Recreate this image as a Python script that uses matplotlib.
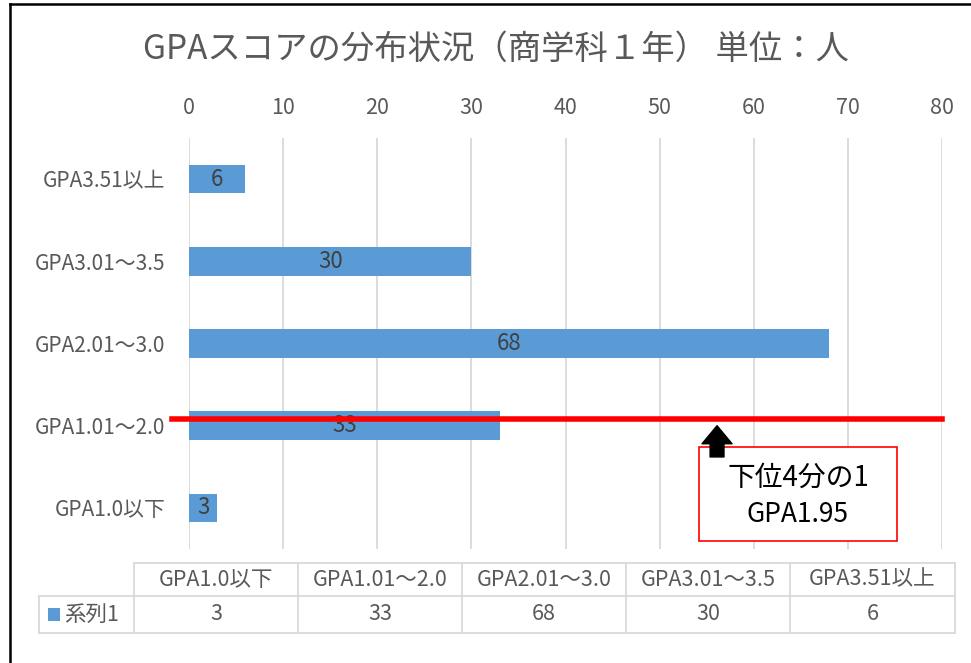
import matplotlib
matplotlib.use('Agg')
import matplotlib.pyplot as plt
from matplotlib.lines import Line2D
from matplotlib.patches import Rectangle, FancyArrowPatch

plt.rcParams['font.family'] = ['Noto Sans CJK JP', 'DejaVu Sans']

# data
categories = ['GPA1.0以下', 'GPA1.01～2.0', 'GPA2.01～3.0', 'GPA3.01～3.5', 'GPA3.51以上']
counts = [3, 33, 68, 30, 6]
series_name = '系列1'
title = 'GPAスコアの分布状況（商学科１年） 単位：人'
xticks = [0, 10, 20, 30, 40, 50, 60, 70, 80]
cutoff_y = 1.08         # bottom quarter line (GPA1.95)
note_lines = ['下位4分の1', 'GPA1.95']

W, H = 971, 663
bar_color = '#5B9BD5'
grid_color = '#D9D9D9'
text_gray = '#595959'

fig = plt.figure(figsize=(W / 100, H / 100), dpi=100)

def fx(px):
    return px / W

def fy(py):
    return 1 - py / H

ax = fig.add_axes([fx(189), fy(549), fx(942) - fx(189), fy(138) - fy(549)])

ypos = list(range(len(categories)))
ax.barh(ypos, counts, height=0.35, color=bar_color, zorder=2)
for y, v in zip(ypos, counts):
    ax.text(v / 2, y, str(v), ha='center', va='center', fontsize=16,
            color='#404040', zorder=3)

ax.set_xlim(0, 80)
ax.set_ylim(-0.5, len(categories) - 0.5)
ax.set_xticks(xticks)
ax.xaxis.tick_top()
ax.tick_params(axis='x', length=0, pad=14, labelsize=15.5, labelcolor=text_gray)
ax.set_yticks(ypos)
ax.set_yticklabels(categories)
ax.tick_params(axis='y', length=0, pad=17, labelsize=15, labelcolor=text_gray)
ax.grid(axis='x', color=grid_color, linewidth=1.3, zorder=0)
for s in ax.spines.values():
    s.set_visible(False)

# red cutoff line
ax.plot([-1.8, 80], [cutoff_y, cutoff_y], color='#FF0000', linewidth=4,
        clip_on=False, zorder=4)

# note box + arrow
ax.add_patch(Rectangle((54.2, -0.40), 21.0, 1.14, facecolor='white',
                       edgecolor='#FF0000', linewidth=1.2, clip_on=False, zorder=5))
ax.add_patch(FancyArrowPatch((56.1, 0.62), (56.1, 1.0),
                             arrowstyle='simple,head_width=1.08,head_length=0.65,tail_width=0.5',
                             mutation_scale=20, color='black', shrinkA=0, shrinkB=0,
                             clip_on=False, zorder=6))
ax.text(64.7, 0.37, note_lines[0], ha='center', va='center', fontsize=20, zorder=7)
ax.text(64.7, -0.08, note_lines[1], ha='center', va='center', fontsize=19, zorder=7)

# title
fig.text(fx(496), fy(49), title, ha='center', va='center', fontsize=24, color=text_gray)

# data table
col_edges = [39, 134, 298, 462, 626, 790, 955]
row_edges = [563, 596, 633]
tc = '#D9D9D9'

def hline(y, x0, x1):
    fig.add_artist(Line2D([fx(x0), fx(x1)], [fy(y), fy(y)], color=tc, linewidth=1.3))

def vline(x, y0, y1):
    fig.add_artist(Line2D([fx(x), fx(x)], [fy(y0), fy(y1)], color=tc, linewidth=1.3))

hline(row_edges[0], col_edges[1], col_edges[-1])
hline(row_edges[1], col_edges[0], col_edges[-1])
hline(row_edges[2], col_edges[0], col_edges[-1])
vline(col_edges[0], row_edges[1], row_edges[2])
for x in col_edges[1:]:
    vline(x, row_edges[0], row_edges[2])

hy = (row_edges[0] + row_edges[1]) / 2
dy = (row_edges[1] + row_edges[2]) / 2
for i, (cat, v) in enumerate(zip(categories, counts)):
    cx = (col_edges[i + 1] + col_edges[i + 2]) / 2
    fig.text(fx(cx), fy(hy), cat, ha='center', va='center', fontsize=15.5, color=text_gray)
    fig.text(fx(cx), fy(dy), str(v), ha='center', va='center', fontsize=15.5, color=text_gray)

fig.add_artist(Rectangle((fx(48), fy(dy + 6)), fx(12), fy(0) - fy(13),
                         facecolor=bar_color, edgecolor='none'))
fig.text(fx(64), fy(dy), series_name, ha='left', va='center', fontsize=15.5, color=text_gray)

# outer frame (left and top edges visible)
fig.add_artist(Line2D([fx(10), fx(10)], [fy(4), 0], color='black', linewidth=1.8))
fig.add_artist(Line2D([fx(10), 1], [fy(4), fy(4)], color='black', linewidth=1.8))

fig.savefig('out.png', dpi=100)
